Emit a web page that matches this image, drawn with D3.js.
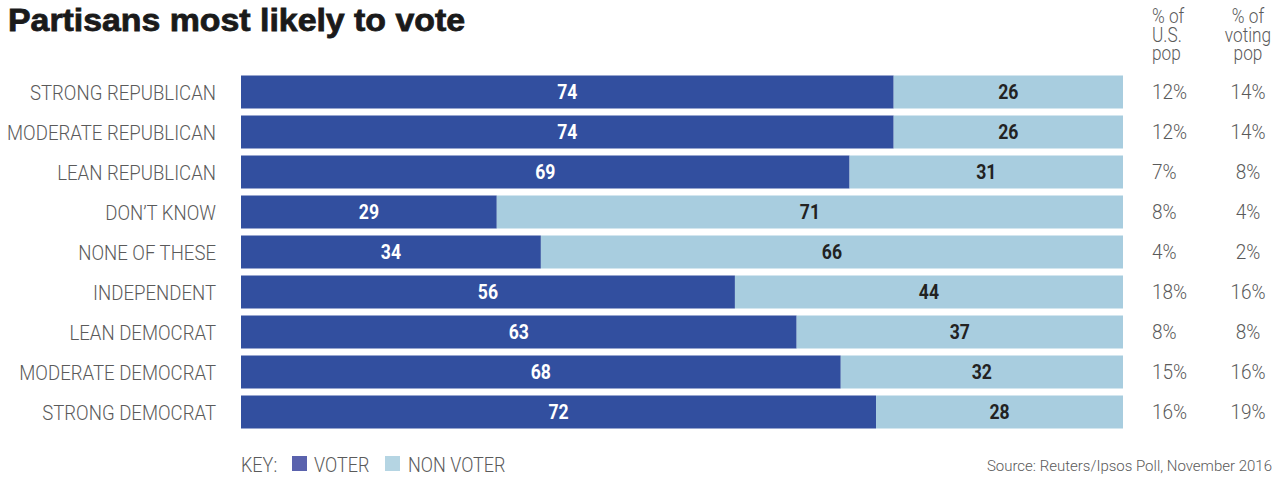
<!DOCTYPE html>
<html>
<head>
<meta charset="utf-8">
<script src="https://cdn.jsdelivr.net/npm/d3@7/dist/d3.min.js"></script>
<style>
  html, body { margin: 0; padding: 0; background: #fff; }
  svg text { font-family: Roboto, "DejaVu Sans Condensed", sans-serif; }
</style>
</head>
<body>
<svg id="chart" width="1282" height="477"></svg>
<script>
const categories = ["STRONG REPUBLICAN","MODERATE REPUBLICAN","LEAN REPUBLICAN","DON\u2019T KNOW","NONE OF THESE","INDEPENDENT","LEAN DEMOCRAT","MODERATE DEMOCRAT","STRONG DEMOCRAT"];
const voter    = [74, 74, 69, 29, 34, 56, 63, 68, 72];
const nonVoter = [26, 26, 31, 71, 66, 44, 37, 32, 28];
const usPop     = [12, 12, 7, 8, 4, 18, 8, 15, 16];
const votingPop = [14, 14, 8, 4, 2, 16, 8, 16, 19];
const headerUS = ["% of", "U.S.", "pop"];
const headerVoting = ["% of", "voting", "pop"];

const svg = d3.select("#chart");
const DARK = "#324f9f", LIGHT = "#a8cddf", GRAY = "#5a5a5a";

// horizontally condense text to mimic a condensed face
function condense(sel, f) {
  sel.each(function () {
    const w = this.getComputedTextLength();
    d3.select(this).attr("textLength", w * f).attr("lengthAdjust", "spacingAndGlyphs");
  });
}

const x = d3.scaleLinear().domain([0, 100]).range([241, 1123]);
const y = d3.scaleBand().domain(categories).range([72, 432]).paddingInner(0.175).paddingOuter(0.0875);

// Title
svg.append("text").attr("x", 8).attr("y", 31)
  .style("font-family", "'Liberation Sans', Arial, sans-serif")
  .style("font-weight", "900").style("font-size", "31px").attr("fill", "#1a1a1a")
  .attr("stroke", "#1a1a1a").attr("stroke-width", 0.8)
  .attr("textLength", 457).attr("lengthAdjust", "spacingAndGlyphs")
  .text("Partisans most likely to vote");

const rows = svg.append("g").selectAll("g").data(categories).join("g");

rows.append("rect").attr("x", x(0)).attr("y", d => y(d))
  .attr("width", (d, i) => x(voter[i]) - x(0)).attr("height", y.bandwidth()).attr("fill", DARK);
rows.append("rect").attr("x", (d, i) => x(voter[i])).attr("y", d => y(d))
  .attr("width", (d, i) => x(voter[i] + nonVoter[i]) - x(voter[i])).attr("height", y.bandwidth()).attr("fill", LIGHT);

// Category labels
rows.append("text").attr("x", 216).attr("y", d => y(d) + y.bandwidth() / 2)
  .attr("dy", "0.36em").attr("text-anchor", "end").attr("fill", GRAY)
  .style("font-size", "21px").style("font-weight", 300).text(d => d)
  .call(condense, 0.885);

// Value labels
rows.append("text").attr("x", (d, i) => (x(0) + x(voter[i])) / 2)
  .attr("y", d => y(d) + y.bandwidth() / 2).attr("dy", "0.36em").attr("text-anchor", "middle")
  .attr("fill", "#fff").style("font-weight", "bold").style("font-size", "20px")
  .text((d, i) => voter[i]).call(condense, 0.88);
rows.append("text").attr("x", (d, i) => (x(voter[i]) + x(voter[i] + nonVoter[i])) / 2)
  .attr("y", d => y(d) + y.bandwidth() / 2).attr("dy", "0.36em").attr("text-anchor", "middle")
  .attr("fill", "#222").style("font-weight", "bold").style("font-size", "20px")
  .text((d, i) => nonVoter[i]).call(condense, 0.88);

// Percent columns
rows.append("text").attr("x", 1152).attr("y", d => y(d) + y.bandwidth() / 2)
  .attr("dy", "0.36em").attr("fill", GRAY).style("font-size", "20px").style("font-weight", 300)
  .text((d, i) => usPop[i] + "%").call(condense, 0.95);
rows.append("text").attr("x", 1248).attr("y", d => y(d) + y.bandwidth() / 2)
  .attr("dy", "0.36em").attr("text-anchor", "middle").attr("fill", GRAY).style("font-size", "20px").style("font-weight", 300)
  .text((d, i) => votingPop[i] + "%").call(condense, 0.95);

// Column headers
headerUS.forEach((t, i) => svg.append("text").attr("x", 1152).attr("y", 23 + i * 18.5)
  .attr("fill", GRAY).style("font-size", "21px").style("font-weight", 300).text(t).call(condense, 0.82));
headerVoting.forEach((t, i) => svg.append("text").attr("x", 1248).attr("y", 23 + i * 18.5)
  .attr("text-anchor", "middle").attr("fill", GRAY).style("font-size", "21px").style("font-weight", 300).text(t).call(condense, 0.82));

// Key
const key = svg.append("g").style("font-weight", 300);
key.append("text").attr("x", 241).attr("y", 472).attr("fill", GRAY).style("font-size", "20px").text("KEY:").call(condense, 0.9);
key.append("rect").attr("x", 292).attr("y", 456).attr("width", 15).attr("height", 15).attr("fill", "#5a62ad");
key.append("text").attr("x", 314).attr("y", 472).attr("fill", GRAY).style("font-size", "20px").text("VOTER").call(condense, 0.9);
key.append("rect").attr("x", 385).attr("y", 456).attr("width", 15).attr("height", 15).attr("fill", "#b5d5e3");
key.append("text").attr("x", 408).attr("y", 472).attr("fill", GRAY).style("font-size", "20px").text("NON VOTER").call(condense, 0.9);

// Source
svg.append("text").attr("x", 1272).attr("y", 471).attr("text-anchor", "end")
  .attr("fill", GRAY).style("font-size", "15px").style("font-weight", 300)
  .text("Source: Reuters/Ipsos Poll, November 2016");
</script>
</body>
</html>
